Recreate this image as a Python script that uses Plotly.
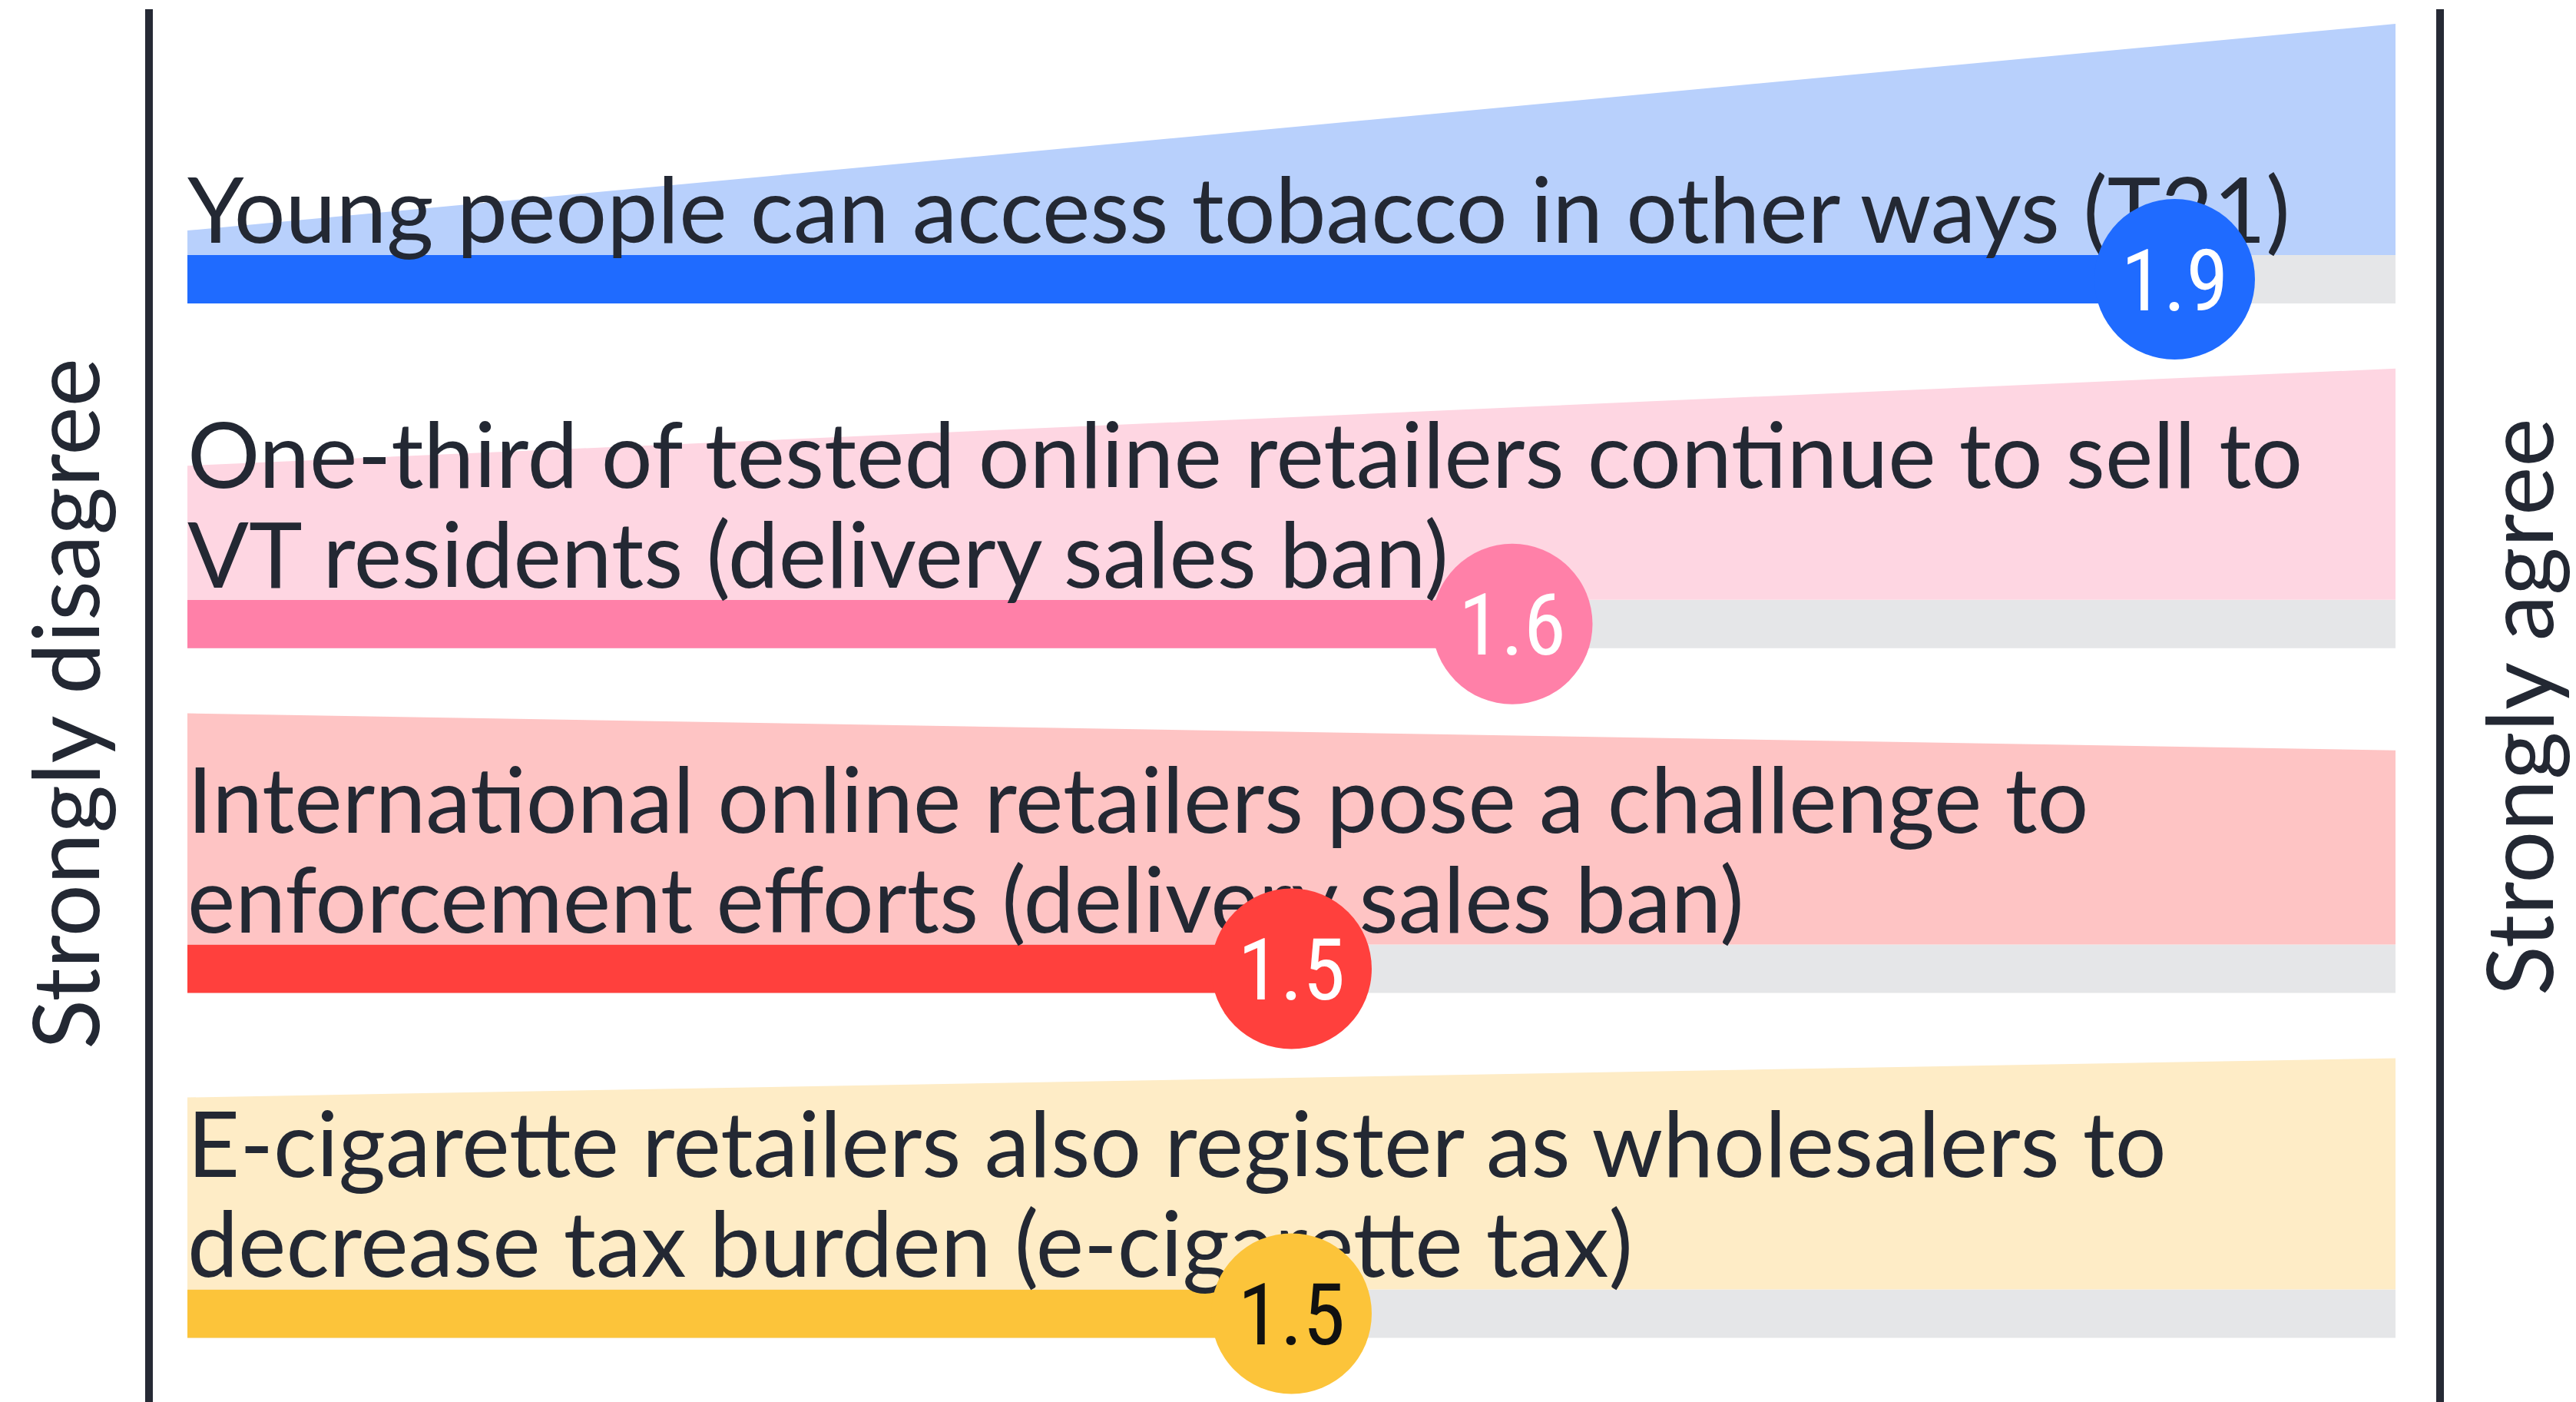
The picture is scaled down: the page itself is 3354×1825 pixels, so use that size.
import plotly.graph_objects as go

# ---------------- data ----------------
label_lines = [
    ["Young people can access tobacco in other ways (T21)"],
    ["One-third of tested online retailers continue to sell to",
     "VT residents (delivery sales ban)"],
    ["International online retailers pose a challenge to",
     "enforcement efforts (delivery sales ban)"],
    ["E-cigarette retailers also register as wholesalers to",
     "decrease tax burden (e-cigarette tax)"],
]
values = [1.9, 1.6, 1.5, 1.5]
value_labels = ["1.9", "1.6", "1.5", "1.5"]
# relative height of the light background band at the left / right end
shade_left = [0.106, 0.58, 1.0, 0.83]
shade_right = [1.0, 1.0, 0.84, 1.0]

scale_min, scale_max = 1, 2
left_label = "Strongly disagree"
right_label = "Strongly agree"

dark_colors = ["#1F6BFF", "#FF80A8", "#FF403D", "#FCC43A"]
light_colors = ["#B8D0FC", "#FED6E2", "#FEC4C4", "#FEECC6"]
num_colors = ["#FFFFFF", "#FFFFFF", "#FFFFFF", "#111111"]
track_color = "#E5E6E8"
text_color = "#232833"
line_color = "#262A35"

# ---------------- layout constants ----------------
PAGE_OFF = 8                      # default body margin of the html page
W, H = 3354 - PAGE_OFF, 1825 - PAGE_OFF
ML, MR, MT, MB = 199 - PAGE_OFF, 182, 12 - PAGE_OFF, 0
row_px = 448.8            # pixels per row
bar_h = 63 / row_px       # bar thickness in row units
shade_max = 301 / row_px  # max light band height
label_font = 118
side_font = 120
line_gap = 130 / row_px
base_gap = 16 / row_px
num_font = 112
circle_d = 209

n = len(values)
rows = list(range(n))
first_center = 363.5 - PAGE_OFF - MT   # px of first row centre inside plot area
plot_h = H - MT - MB
y_range = [(plot_h - first_center) / row_px, -first_center / row_px]
px_per_x = 2875
plot_w = W - ML - MR
x_range = [scale_min - 45 / px_per_x, scale_min + (plot_w - 45) / px_per_x]

fig = go.Figure()

# grey tracks
fig.add_trace(go.Bar(
    y=rows, x=[scale_max - scale_min] * n, base=scale_min, orientation="h",
    width=bar_h, marker=dict(color=track_color, line=dict(width=0)),
    hoverinfo="skip", showlegend=False))
# value bars
fig.add_trace(go.Bar(
    y=rows, x=[v - scale_min for v in values], base=scale_min, orientation="h",
    width=bar_h, marker=dict(color=dark_colors, line=dict(width=0)),
    hoverinfo="skip", showlegend=False))

# light bands
for i in rows:
    top = i - bar_h / 2
    fig.add_trace(go.Scatter(
        x=[scale_min, scale_min, scale_max, scale_max, scale_min],
        y=[top, top - shade_left[i] * shade_max, top - shade_right[i] * shade_max, top, top],
        mode="lines", fill="toself", fillcolor=light_colors[i],
        line=dict(width=0, color=light_colors[i]),
        hoverinfo="skip", showlegend=False))

# labels (one point per text line, baseline-aligned)
tx, ty, tt = [], [], []
shift = 0.25 * label_font / row_px
for i in rows:
    lines = label_lines[i]
    k = len(lines)
    for j, ln in enumerate(lines):
        baseline = i - bar_h / 2 - base_gap - (k - 1 - j) * line_gap
        tx.append(scale_min)
        ty.append(baseline - shift)
        tt.append(ln)
fig.add_trace(go.Scatter(
    x=tx, y=ty, text=tt, mode="text", textposition="middle right",
    textfont=dict(family="Lato, Inter, sans-serif", size=label_font, color=text_color),
    hoverinfo="skip", showlegend=False))

# circles
fig.add_trace(go.Scatter(
    x=values, y=rows, mode="markers",
    marker=dict(size=circle_d, color=dark_colors, line=dict(width=0)),
    hoverinfo="skip", showlegend=False))
fig.add_trace(go.Scatter(
    x=values, y=[r + 0.108 * num_font / row_px for r in rows], text=value_labels,
    mode="text", textposition="middle center",
    textfont=dict(family="Liberation Sans Narrow, Arial Narrow, Roboto Condensed, Liberation Sans, Arial",
                  size=num_font, color=num_colors),
    hoverinfo="skip", showlegend=False))

fig.update_layout(
    width=W, height=H,
    margin=dict(l=ML, r=MR, t=MT, b=MB, pad=0),
    paper_bgcolor="white", plot_bgcolor="white",
    barmode="overlay",
    xaxis=dict(range=x_range, visible=False, fixedrange=True),
    yaxis=dict(range=y_range, showgrid=False, zeroline=False, showticklabels=False,
               ticks="", showline=True, mirror=True, linecolor=line_color, linewidth=10,
               fixedrange=True),
    annotations=[
        dict(text=left_label, xref="paper", yref="paper", x=(83 - 199) / plot_w, y=0.5014,
             xanchor="center", yanchor="middle", textangle=-90, showarrow=False,
             font=dict(family="Lato, Inter, sans-serif", size=side_font, color=text_color)),
        dict(text=right_label, xref="paper", yref="paper", x=(3278 - 199) / plot_w, y=0.499,
             xanchor="center", yanchor="middle", textangle=-90, showarrow=False,
             font=dict(family="Lato, Inter, sans-serif", size=side_font, color=text_color)),
    ],
)

fig.write_html("out.html")
